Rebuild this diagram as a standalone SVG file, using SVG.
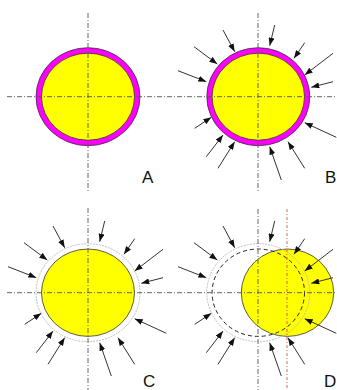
<svg xmlns="http://www.w3.org/2000/svg" width="337" height="390" viewBox="0 0 337 390">
<style>
.ring{fill:#ff00ff;stroke:#333;stroke-width:0.8}
.core{fill:#ffff00;stroke:#333;stroke-width:0.8}
.ghost{fill:none;stroke:#b8b8b8;stroke-width:0.9;stroke-dasharray:2 1}
.dash{fill:none;stroke:#222;stroke-width:1;stroke-dasharray:4 3}
.axis{stroke:#555;stroke-width:0.9;stroke-dasharray:5 2 1 2;fill:none}
.red{stroke:#e05050;stroke-width:0.9;stroke-dasharray:3 2 1 2;fill:none}
.arr{stroke:#333;stroke-width:1;fill:none;marker-end:url(#ah)}
.lbl{font-family:"Liberation Sans",Arial,sans-serif;font-size:17px;fill:#111}
</style>
<defs>
<marker id="ah" markerUnits="userSpaceOnUse" markerWidth="8" markerHeight="6" refX="8" refY="3" orient="auto">
<path d="M0,0 L8,3 L0,6 z" fill="#111"/>
</marker>
</defs>
<rect width="337" height="390" fill="#fff"/>
<g id="nodeA">
<ellipse class="ring" cx="88" cy="96.7" rx="52" ry="49"/>
<ellipse class="core" cx="88" cy="96.7" rx="46.5" ry="43.5"/>
<text class="lbl" x="142" y="183">A</text>
</g>
<g id="nodeB">
<ellipse class="ring" cx="258.3" cy="96.7" rx="51.5" ry="49"/>
<ellipse class="core" cx="258.3" cy="96.7" rx="46.2" ry="43.5"/>
<text class="lbl" x="325" y="183">B</text>
</g>
<g id="nodeC">
<ellipse class="ghost" cx="88" cy="292.7" rx="52" ry="49"/>
<ellipse class="core" cx="88" cy="292.7" rx="46.5" ry="43.7"/>
<text class="lbl" x="143" y="387">C</text>
</g>
<g id="nodeD">
<ellipse class="core" cx="287.5" cy="292.7" rx="46.2" ry="43.7"/>
<ellipse class="ghost" cx="258.3" cy="292.7" rx="51.5" ry="49"/>
<ellipse class="dash" cx="258.3" cy="292.7" rx="46.2" ry="43.7"/>
<text class="lbl" x="324" y="387">D</text>
</g>
<g id="axes">
<line class="axis" x1="88" y1="13" x2="88" y2="193"/>
<line class="axis" x1="258" y1="13" x2="258" y2="193"/>
<line class="axis" x1="7" y1="96.7" x2="337" y2="96.7"/>
<line class="axis" x1="88" y1="208" x2="88" y2="390"/>
<line class="axis" x1="258" y1="209" x2="258" y2="390"/>
<line class="axis" x1="7" y1="292.7" x2="337" y2="292.7"/>
<line class="red" x1="287" y1="209" x2="287" y2="390"/>
</g>
<g id="connectors">
<g id="arrowsB">
<line class="arr" x1="223" y1="30" x2="234.7" y2="51.7"/>
<line class="arr" x1="274.7" y1="25" x2="269.7" y2="45.7"/>
<line class="arr" x1="304.7" y1="42.7" x2="294" y2="58.3"/>
<line class="arr" x1="333" y1="53.3" x2="304.7" y2="75"/>
<line class="arr" x1="333" y1="81.7" x2="311.3" y2="87.3"/>
<line class="arr" x1="194" y1="46.7" x2="217.3" y2="64"/>
<line class="arr" x1="178" y1="70.7" x2="206.3" y2="81.7"/>
<line class="arr" x1="194.7" y1="128.3" x2="211.3" y2="117.3"/>
<line class="arr" x1="336.3" y1="137.3" x2="304.7" y2="122.7"/>
<line class="arr" x1="206.3" y1="156.7" x2="223" y2="135"/>
<line class="arr" x1="218" y1="168.3" x2="234.7" y2="141.7"/>
<line class="arr" x1="281.3" y1="180" x2="269.7" y2="146.7"/>
<line class="arr" x1="304.7" y1="168.3" x2="288" y2="141.7"/>
</g>
<g id="arrowsC" transform="translate(-170,196)">
<line class="arr" x1="223" y1="30" x2="234.7" y2="51.7"/>
<line class="arr" x1="274.7" y1="25" x2="269.7" y2="45.7"/>
<line class="arr" x1="304.7" y1="42.7" x2="294" y2="58.3"/>
<line class="arr" x1="333" y1="53.3" x2="304.7" y2="75"/>
<line class="arr" x1="333" y1="81.7" x2="311.3" y2="87.3"/>
<line class="arr" x1="194" y1="46.7" x2="217.3" y2="64"/>
<line class="arr" x1="178" y1="70.7" x2="206.3" y2="81.7"/>
<line class="arr" x1="194.7" y1="128.3" x2="211.3" y2="117.3"/>
<line class="arr" x1="336.3" y1="137.3" x2="304.7" y2="122.7"/>
<line class="arr" x1="206.3" y1="156.7" x2="223" y2="135"/>
<line class="arr" x1="218" y1="168.3" x2="234.7" y2="141.7"/>
<line class="arr" x1="281.3" y1="180" x2="269.7" y2="146.7"/>
<line class="arr" x1="304.7" y1="168.3" x2="288" y2="141.7"/>
</g>
<g id="arrowsD" transform="translate(0,196)">
<line class="arr" x1="223" y1="30" x2="234.7" y2="51.7"/>
<line class="arr" x1="274.7" y1="25" x2="269.7" y2="45.7"/>
<line class="arr" x1="304.7" y1="42.7" x2="294" y2="58.3"/>
<line class="arr" x1="333" y1="53.3" x2="304.7" y2="75"/>
<line class="arr" x1="333" y1="81.7" x2="311.3" y2="87.3"/>
<line class="arr" x1="194" y1="46.7" x2="217.3" y2="64"/>
<line class="arr" x1="178" y1="70.7" x2="206.3" y2="81.7"/>
<line class="arr" x1="194.7" y1="128.3" x2="211.3" y2="117.3"/>
<line class="arr" x1="336.3" y1="137.3" x2="304.7" y2="122.7"/>
<line class="arr" x1="206.3" y1="156.7" x2="223" y2="135"/>
<line class="arr" x1="218" y1="168.3" x2="234.7" y2="141.7"/>
<line class="arr" x1="281.3" y1="180" x2="269.7" y2="146.7"/>
<line class="arr" x1="304.7" y1="168.3" x2="288" y2="141.7"/>
</g>
</g>
</svg>
